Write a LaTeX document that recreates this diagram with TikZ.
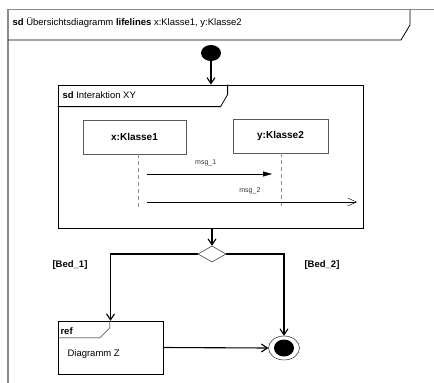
\documentclass[tikz,border=0pt]{standalone}
\usepackage{fontspec}
\setmainfont{Liberation Sans}
\usetikzlibrary{shapes.geometric , arrows.meta}

\tikzset{
    lebenslinie/.style = {draw = black!65 , minimum height = 34pt , inner sep = 0pt , font = \bfseries\fontsize{10}{12}\selectfont},
    fluss/.style = {line width = 1.1pt , -{Straight Barb[length = 6pt , width = 8pt]}},
    linie/.style = {draw = black!45 , dashed , dash pattern = on 4pt off 3pt},
    klein/.style = {font = \fontsize{7}{8}\selectfont , text = black!80},
}

\begin{document}
\begin{tikzpicture}[x = 1pt , y = -1pt , font = \fontsize{9.5}{11}\selectfont]
    \useasboundingbox (0,0) rectangle (434,383);
    % Rahmen aussen
    \draw[black!45 , line width = 1.2pt] (8,383) -- (8,9.5) -- (434,9.5);
    \draw[thick] (8,40) -- (401,40) -- (410,25) -- (410,9.5);
    \node[anchor = west] (titel) at (9,23) {\textbf{sd} Übersichtsdiagramm \textbf{lifelines} x:Klasse1, y:Klasse2};

    \node[ellipse , fill , minimum width = 20pt , minimum height = 16pt , inner sep = 0pt] (start) at (211,53) {}; % Startknoten

    % Interaktion XY
    \node[draw , thick , minimum width = 305pt , minimum height = 143pt , inner sep = 0pt] (interaktion) at (210.5,156.5) {};
    \draw[thick] (interaktion.north west) ++(0,22) -- ++(163,0) -- ++(7,-12) -- ++(0,-10);
    \node[anchor = west] (sdxy) at (59,95) {\textbf{sd} Interaktion XY};

    \node[lebenslinie , minimum width = 103pt] (k1) at (134.5,137) {x:Klasse1};
    \node[lebenslinie , minimum width = 95pt] (k2) at (280.5,136) {y:Klasse2};
    \coordinate (k1ende) at (138,207);
    \coordinate (k2ende) at (281,207);
    \draw[linie] (k1ende |- k1.south) -- (k1ende);
    \draw[linie] (k2ende |- k2.south) -- (k2ende);

    \coordinate (m1a) at (147,174);
    \coordinate (m1b) at (272,174);
    \coordinate (m2a) at (147,202);
    \coordinate (m2b) at (357,202);
    \draw[-{Triangle[length = 9pt , width = 5pt]}] (m1a) -- (m1b) node[klein , pos = 0.47 , above = 5pt]{msg\_1};
    \draw[-{Straight Barb[length = 9pt , width = 8pt]}] (m2a) -- (m2b) node[klein , pos = 0.49 , above = 5pt]{msg\_2};

    % Entscheidung
    \node[diamond , draw , minimum width = 28pt , minimum height = 16pt , inner sep = 0pt] (entscheidung) at (212,254) {};
    \node[font = \bfseries\fontsize{9.5}{11}\selectfont] (bed1) at (70,265) {[Bed\_1]};
    \node[font = \bfseries\fontsize{9.5}{11}\selectfont] (bed2) at (322,265) {[Bed\_2]};

    % Referenz
    \node[draw , minimum width = 105pt , minimum height = 53pt , inner sep = 0pt] (ref) at (110.5,347.5) {};
    \draw (ref.north west) ++(0,17) -- ++(42,0) -- ++(10,-10) -- ++(0,-7);
    \node[anchor = west , font = \bfseries\fontsize{9.5}{11}\selectfont] (reftext) at (57,331) {ref};
    \node[anchor = west] (diagz) at (64,354) {Diagramm Z};

    % Endknoten
    \node[ellipse , draw , minimum width = 31pt , minimum height = 24pt , inner sep = 0pt] (ende) at (284,348) {};
    \node[ellipse , fill , minimum width = 20pt , minimum height = 17pt , inner sep = 0pt] (endepunkt) at (ende) {};

    \draw[fluss] (start) -- (interaktion.north -| start);
    \draw[fluss] (interaktion.south -| entscheidung) -- (entscheidung.north);
    \draw[fluss] (entscheidung.west) -| (ref.north);
    \draw[fluss] (entscheidung.east) -| (ende.north);
    \draw[fluss] (ref.east) -- (ende.west);
\end{tikzpicture}
\end{document}
